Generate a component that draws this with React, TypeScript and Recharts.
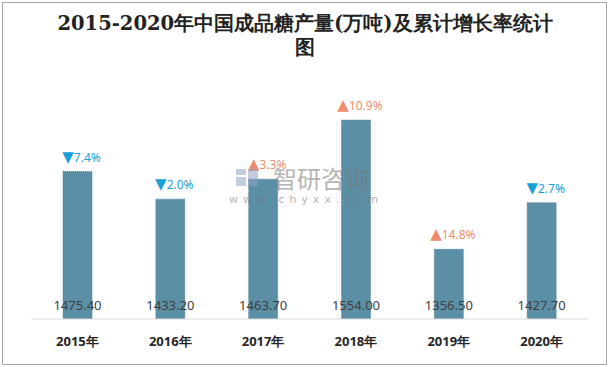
import React from "react";
import { BarChart, Bar, XAxis, YAxis, LabelList } from "recharts";

const years = ["2015年", "2016年", "2017年", "2018年", "2019年", "2020年"];
const production = [1475.4, 1433.2, 1463.7, 1554.0, 1356.5, 1427.7];
const growth = [7.4, 2.0, 3.3, 10.9, 14.8, 2.7];
const direction = ["down", "down", "up", "up", "up", "down"];

const data = years.map((y, i) => ({
  year: y,
  value: production[i],
  growth: growth[i],
  dir: direction[i],
}));

const UP = "#f08c6e";
const DOWN = "#1aa0d8";

const TopLabel = (props: any) => {
  const { x, y, width, index } = props;
  const d = data[index];
  const color = d.dir === "up" ? UP : DOWN;
  const sym = d.dir === "up" ? "▲" : "▼";
  return (
    <text
      x={x + width / 2 + 4}
      y={y - 10}
      textAnchor="middle"
      fill={color}
      fontSize={12}
      fontFamily="'Noto Sans', 'Microsoft YaHei', sans-serif"
    >
      <tspan fontSize={15} fontFamily="'DejaVu Sans', sans-serif">{sym}</tspan>
      <tspan>{d.growth.toFixed(1) + "%"}</tspan>
    </text>
  );
};

const BottomLabel = (props: any) => {
  const { x, width, index } = props;
  const d = data[index];
  return (
    <text
      x={x + width / 2}
      y={310}
      textAnchor="middle"
      fill="#404040"
      fontSize={13}
      fontFamily="'Noto Sans', 'Microsoft YaHei', sans-serif"
    >
      {d.value.toFixed(2)}
    </text>
  );
};

export default function App() {
  return (
    <div
      style={{
        position: "absolute",
        left: 0,
        top: 0,
        width: 610,
        height: 367,
        background: "#fff",
      }}
    >
      <div
        style={{
          position: "absolute",
          left: 2,
          top: 2,
          width: 603,
          height: 361,
          border: "1px solid #a6a6a6",
        }}
      />
      <div
        style={{
          position: "absolute",
          left: 0,
          top: 12,
          width: 610,
          textAlign: "center",
          fontFamily: "'DejaVu Serif', 'Liberation Serif', serif",
          fontWeight: "bold",
          fontSize: 19.5,
          lineHeight: "24px",
          color: "#222",
        }}
      >
        <div>2015-2020年中国成品糖产量(万吨)及累计增长率统计</div>
        <div>图</div>
      </div>
      <div style={{ position: "absolute", left: 0, top: 0 }}>
        <BarChart
          width={610}
          height={367}
          data={data}
          margin={{ top: 90, right: 22, left: 31, bottom: 18 }}
          barCategoryGap="0%"
        >
          <YAxis hide domain={[1250, 1600]} allowDataOverflow />
          <XAxis
            dataKey="year"
            axisLine={{ stroke: "#d9d9d9" }}
            tickLine={false}
            tickMargin={12}
            height={30}
            tick={{
              fill: "#262626",
              fontSize: 13,
              fontWeight: "bold",
              fontFamily: "'Noto Sans', 'Microsoft YaHei', sans-serif",
            }}
          />
          <Bar
            dataKey="value"
            fill="#5b8fa6"
            stroke="#54869c"
            strokeDasharray="1 1"
            strokeWidth={1}
            barSize={29}
            isAnimationActive={false}
          >
            <LabelList dataKey="growth" content={TopLabel} />
            <LabelList dataKey="value" content={BottomLabel} />
          </Bar>
        </BarChart>
      </div>
      <svg
        width={610}
        height={367}
        style={{ position: "absolute", left: 0, top: 0, pointerEvents: "none" }}
      >
        <g opacity={0.55}>
          <rect x={236} y={169} width={10} height={6} fill="#8fa3c4" />
          <rect x={236} y={177} width={10} height={9} fill="#8fa3c4" />
          <rect x={248} y={169} width={10} height={17} fill="#8fa3c4" />
          <text
            x={321}
            y={188}
            textAnchor="middle"
            fontSize={24}
            fill="#777"
            fontFamily="'Noto Sans CJK SC', sans-serif"
          >
            智研咨询
          </text>
          <text
            x={306}
            y={203}
            textAnchor="middle"
            fontSize={11}
            letterSpacing={5}
            fill="#777"
            fontFamily="'DejaVu Sans', sans-serif"
          >
            www.chyxx.com
          </text>
        </g>
      </svg>
    </div>
  );
}
